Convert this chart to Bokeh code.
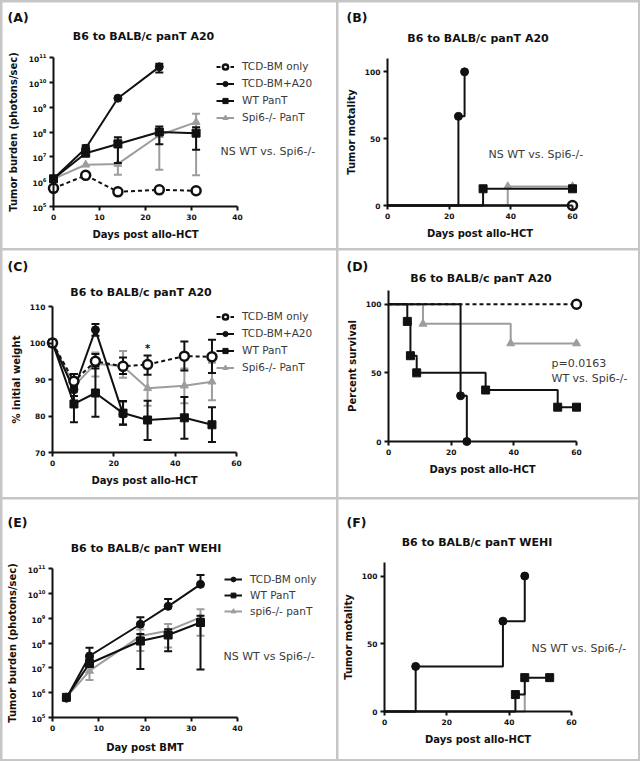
import numpy as np
from bokeh.plotting import figure
from bokeh.models import GridBox, Label, Legend, LegendItem, FixedTicker, Range1d
from bokeh.embed import file_html
from bokeh.resources import INLINE

FONT = "DejaVu Sans"
INK = "#111111"
GRAY = "#9d9d9d"
TXT = "#3a3a3a"

# ---------------- data ----------------
# (A) tumour burden, A20
a_days = [0, 7, 14, 23, 31]
a_tcd = [5.4e5, 1.8e6, 3.9e5, 4.7e5, 4.3e5]
a_a20_days = [0, 7, 14, 23]
a_a20 = [1.3e6, 2.2e7, 2.3e9, 4.2e10]
a_a20_lo = [1.3e6, 2.2e7, 2.3e9, 2.5e10]
a_a20_hi = [1.3e6, 2.9e7, 2.3e9, 5.6e10]
a_wt = [1.3e6, 1.4e7, 3.3e7, 1.0e8, 9.0e7]
a_wt_lo = [1.3e6, 1.4e7, 5.6e6, 3.2e7, 1.95e7]
a_wt_hi = [1.3e6, 2.0e7, 6.2e7, 1.66e8, 1.55e8]
a_spi = [1.3e6, 4.8e6, 5.2e6, 7.4e7, 2.5e8]
a_spi_lo = [1.3e6, 4.8e6, 1.9e6, 3.0e6, 1.8e6]
a_spi_hi = [1.3e6, 4.8e6, 5.0e7, 1.2e8, 5.4e8]

# (B) tumour mortality, A20
b_a20_t = [0, 23, 25]
b_a20_y = [0, 66.7, 100]
b_wt_t = [0, 31, 60]
b_wt_y = [0, 12.5, 12.5]
b_spi_t = [0, 39, 60]
b_spi_y = [0, 14.3, 14.3]
b_tcd_t = [0, 60]
b_tcd_y = [0, 0]

# (C) weight
c_days = [0, 7, 14, 23, 31, 43, 52]
c_tcd = [100, 89.5, 95.0, 93.6, 94.1, 96.4, 96.2]
c_tcd_lo = [100, 88.0, 93.0, 91.5, 91.3, 92.5, 91.8]
c_tcd_hi = [100, 91.5, 97.0, 96.0, 96.6, 100.4, 100.9]
c_a20_days = [0, 7, 14, 23]
c_a20 = [100, 87.2, 103.6, 80.5]
c_a20_lo = [100, 85.5, 102.0, 77.7]
c_a20_hi = [100, 89.0, 105.2, 84.0]
c_wt = [100, 83.3, 86.3, 80.8, 78.9, 79.5, 77.6]
c_wt_lo = [100, 78.3, 79.8, 77.6, 73.4, 73.8, 72.9]
c_wt_hi = [100, 88.4, 93.6, 84.1, 84.2, 85.2, 82.4]
c_spi = [100, 88.2, 94.3, 93.6, 87.6, 88.3, 89.4]
c_spi_lo = [100, 86.5, 90.8, 90.5, 82.8, 83.5, 84.3]
c_spi_hi = [100, 90.0, 97.4, 97.8, 93.0, 93.0, 94.6]

# (D) survival
d_tcd_t = [0, 60]
d_tcd_y = [100, 100]
d_a20_t = [0, 23, 25]
d_a20_y = [100, 33.3, 0]
d_wt_t = [0, 6, 7, 9, 31, 54, 60]
d_wt_y = [100, 87.5, 62.5, 50, 37.5, 25, 25]
d_spi_t = [0, 11, 39, 60]
d_spi_y = [100, 85.7, 71.4, 71.4]

# (E) tumour burden, WEHI
e_days = [3, 8, 19, 25, 32]
e_tcd = [6.0e5, 3.0e7, 5.7e8, 3.0e9, 2.3e10]
e_tcd_hi = [6.0e5, 6.5e7, 1.1e9, 5.9e9, 5.5e10]
e_wt = [6.5e5, 1.5e7, 1.2e8, 2.1e8, 6.7e8]
e_wt_lo = [6.5e5, 1.5e7, 9.0e6, 4.6e7, 8.5e6]
e_wt_hi = [6.5e5, 2.5e7, 2.3e8, 3.6e8, 1.25e9]
e_spi = [6.5e5, 7.5e6, 1.9e8, 3.1e8, 1.07e9]
e_spi_lo = [6.5e5, 3.2e6, 4.8e7, 6.6e7, 1.95e8]
e_spi_hi = [6.5e5, 1.1e7, 3.5e8, 5.8e8, 2.3e9]

# (F) tumour mortality, WEHI
f_tcd_t = [0, 10, 38, 45]
f_tcd_y = [0, 33.3, 66.7, 100]
f_wt_t = [0, 42, 45, 53]
f_wt_y = [0, 12.5, 25, 25]
f_spi_t = [0, 45]
f_spi_y = [0, 14.3]

log_ticks = [1e5, 1e6, 1e7, 1e8, 1e9, 1e10, 1e11]


# ---------------- helpers ----------------
def panel(W, H, origin, edges, xr, yr, log=False):
    l, r, t, b = edges
    x0, x1 = xr
    y0, y1 = yr
    dx = (x1 - x0) / (r - l)
    xrange = Range1d(x0 - l * dx, x1 + (W - r) * dx)
    if log:
        ly0, ly1 = np.log10(y0), np.log10(y1)
        dy = (ly1 - ly0) / (b - t)
        yrange = Range1d(10 ** (ly0 - (H - b) * dy), 10 ** (ly1 + t * dy))
    else:
        dy = (y1 - y0) / (b - t)
        yrange = Range1d(y0 - (H - b) * dy, y1 + t * dy)
    p = figure(width=W, height=H, x_range=xrange, y_range=yrange,
               y_axis_type="log" if log else "linear",
               min_border=0, min_border_left=0, min_border_right=0,
               min_border_top=0, min_border_bottom=0,
               toolbar_location=None, output_backend="svg", title=None,
               background_fill_color="white", border_fill_color="white",
               outline_line_color=None)
    p.grid.visible = False
    g = dict(W=W, H=H, ox=origin[0], oy=origin[1], l=l, r=r, t=t, b=b,
             xr=xr, yr=yr, log=log)
    return p, g


def to_data(g, X, Y):
    x0, x1 = g["xr"]
    y0, y1 = g["yr"]
    u, v = X - g["ox"], Y - g["oy"]
    x = x0 + (u - g["l"]) / (g["r"] - g["l"]) * (x1 - x0)
    f = (g["b"] - v) / (g["b"] - g["t"])
    if g["log"]:
        y = 10 ** (np.log10(y0) + f * (np.log10(y1) - np.log10(y0)))
    else:
        y = y0 + f * (y1 - y0)
    return x, y


def axes(p, g, xticks, yticks, xlabel, ylabel, xlab_sd=6, ylab_sd=6):
    x0, x1 = g["xr"]
    y0, y1 = g["yr"]
    xa, ya = p.xaxis[0], p.yaxis[0]
    xa.ticker = FixedTicker(ticks=xticks, minor_ticks=[])
    ya.ticker = FixedTicker(ticks=yticks, minor_ticks=[])
    xa.bounds = (x0, x1)
    ya.bounds = (y0, y1)
    xa.fixed_location = y0
    ya.fixed_location = x0
    xa.axis_label = xlabel
    ya.axis_label = ylabel
    for ax in (xa, ya):
        ax.axis_line_width = 2
        ax.axis_line_color = INK
        ax.major_tick_line_width = 2
        ax.major_tick_line_color = INK
        ax.major_tick_out = 4
        ax.major_tick_in = 0
        ax.minor_tick_line_color = None
        ax.major_label_text_font = FONT
        ax.major_label_text_font_style = "bold"
        ax.major_label_text_font_size = "7.5px"
        ax.major_label_text_color = INK
        ax.major_label_standoff = 3
        ax.axis_label_text_font = FONT
        ax.axis_label_text_font_style = "bold"
        ax.axis_label_text_font_size = "10px"
        ax.axis_label_text_color = INK
    xa.axis_label_standoff = xlab_sd
    ya.axis_label_standoff = ylab_sd


def text(p, g, X, Y, s, size="11px", style="normal", color=INK, align="left"):
    x, y = to_data(g, X, Y)
    p.add_layout(Label(x=x, y=y, text=s, text_font=FONT, text_font_size=size,
                       text_font_style=style, text_color=color, text_align=align,
                       text_baseline="middle"))


def heading(p, g, tag, tag_xy, title, title_xy):
    text(p, g, tag_xy[0], tag_xy[1], tag, size="12.5px", style="bold")
    text(p, g, title_xy[0], title_xy[1], title, size="11px", style="bold", align="center")


def errbars(p, x, y, lo, hi, color):
    xs, y0s, y1s, cx, cy = [], [], [], [], []
    for xi, yi, lw, hg in zip(x, y, lo, hi):
        if hg > yi:
            xs.append(xi); y0s.append(yi); y1s.append(hg); cx.append(xi); cy.append(hg)
        if lw < yi:
            xs.append(xi); y0s.append(lw); y1s.append(yi); cx.append(xi); cy.append(lw)
    p.segment(x0=xs, y0=y0s, x1=xs, y1=y1s, line_color=color, line_width=2)
    p.scatter(x=cx, y=cy, marker="dash", size=8, line_color=color, line_width=2)


def series(p, x, y, color, marker, dash="solid", open_=False, size=8):
    l = p.line(x, y, line_color=color, line_width=2, line_dash=dash)
    m = p.scatter(x, y, marker=marker, size=size + (1 if open_ else 0),
                  line_color=color, fill_color="white" if open_ else color,
                  line_width=2.5 if open_ else 1)
    return [l, m]


def steps(p, t, y, color, marker, dash="solid", open_=False, size=8, marks=True):
    p.step(t, y, mode="after", line_color=color, line_width=2, line_dash=dash)
    if marks:
        p.scatter(t[1:], y[1:], marker=marker, size=size + (1 if open_ else 0),
                  line_color=color, fill_color="white" if open_ else color,
                  line_width=2.5 if open_ else 1)


def legend(p, g, entries, X, Y1, rowh=13, sp=4):
    n = len(entries)
    h = n * rowh + (n - 1) * sp
    vx = X - g["ox"]
    top = (Y1 - g["oy"]) - rowh / 2
    vy = g["H"] - (top + h)
    items = [LegendItem(label=lab, renderers=rs) for lab, rs in entries]
    leg = Legend(items=items, location=(vx, vy), orientation="vertical",
                 glyph_width=18, glyph_height=rowh, label_height=rowh,
                 label_standoff=8, spacing=sp, padding=0, margin=0,
                 border_line_color=None, background_fill_alpha=0,
                 label_text_font=FONT, label_text_font_size="10.5px",
                 label_text_color=TXT, label_text_baseline="middle")
    p.add_layout(leg)


W1, W2 = 334, 300
H1, H2, H3 = 246, 247, 260

# ---------------- (A) ----------------
pA, gA = panel(W1, H1, (2, 2), (51, 235, 55, 204), (0, 40), (1e5, 1e11), log=True)
axes(pA, gA, [0, 10, 20, 30, 40], log_ticks, "Days post allo-HCT",
     "Tumor burden (photons/sec)", ylab_sd=7)
errbars(pA, a_days, a_spi, a_spi_lo, a_spi_hi, GRAY)
rA_spi = series(pA, a_days, a_spi, GRAY, "triangle")
errbars(pA, a_days, a_wt, a_wt_lo, a_wt_hi, INK)
rA_wt = series(pA, a_days, a_wt, INK, "square")
errbars(pA, a_a20_days, a_a20, a_a20_lo, a_a20_hi, INK)
rA_a20 = series(pA, a_a20_days, a_a20, INK, "circle")
rA_tcd = series(pA, a_days, a_tcd, INK, "circle", dash="4 3", open_=True)
legend(pA, gA, [("TCD-BM only", rA_tcd), ("TCD-BM+A20", rA_a20),
                ("WT PanT", rA_wt), ("Spi6-/- PanT", rA_spi)], 216, 66)
heading(pA, gA, "(A)", (7, 16.5), "B6 to BALB/c panT A20", (143, 36))
text(pA, gA, 220, 151, "NS WT vs. Spi6-/-", color=TXT)

# ---------------- (B) ----------------
pB, gB = panel(W2, H1, (338, 2), (49, 234, 56, 203), (0, 60), (0, 110))
axes(pB, gB, [0, 20, 40, 60], [0, 50, 100], "Days post allo-HCT", "Tumor motality", ylab_sd=5)
steps(pB, b_spi_t, b_spi_y, GRAY, "triangle")
steps(pB, b_wt_t, b_wt_y, INK, "square")
steps(pB, b_a20_t, b_a20_y, INK, "circle")
steps(pB, b_tcd_t, b_tcd_y, INK, "circle", open_=True)
heading(pB, gB, "(B)", (346, 16.7), "B6 to BALB/c panT A20", (477.5, 38))
text(pB, gB, 488, 154.3, "NS WT vs. Spi6-/-", color=TXT)

# ---------------- (C) ----------------
pC, gC = panel(W1, H2, (2, 250), (50, 234, 56, 202), (0, 60), (70, 110))
axes(pC, gC, [0, 20, 40, 60], [70, 80, 90, 100, 110], "Days post allo-HCT", "% initial weight",
     ylab_sd=5)
errbars(pC, c_days, c_spi, c_spi_lo, c_spi_hi, GRAY)
rC_spi = series(pC, c_days, c_spi, GRAY, "triangle")
errbars(pC, c_days, c_wt, c_wt_lo, c_wt_hi, INK)
rC_wt = series(pC, c_days, c_wt, INK, "square")
errbars(pC, c_a20_days, c_a20, c_a20_lo, c_a20_hi, INK)
rC_a20 = series(pC, c_a20_days, c_a20, INK, "circle")
errbars(pC, c_days, c_tcd, c_tcd_lo, c_tcd_hi, INK)
rC_tcd = series(pC, c_days, c_tcd, INK, "circle", dash="4 3", open_=True)
legend(pC, gC, [("TCD-BM only", rC_tcd), ("TCD-BM+A20", rC_a20),
                ("WT PanT", rC_wt), ("Spi6-/- PanT", rC_spi)], 216, 316)
heading(pC, gC, "(C)", (7, 266), "B6 to BALB/c panT A20", (140.5, 291.7))
pC.add_layout(Label(x=31, y=98.6, text="*", text_font=FONT, text_font_size="10px",
                    text_font_style="bold", text_color=INK, text_align="center",
                    text_baseline="middle"))

# ---------------- (D) ----------------
pD, gD = panel(W2, H2, (338, 250), (50, 238, 40, 191), (0, 60), (0, 110))
axes(pD, gD, [0, 20, 40, 60], [0, 50, 100], "Days post allo-HCT", "Percent survival", ylab_sd=5)
steps(pD, d_spi_t, d_spi_y, GRAY, "triangle")
steps(pD, d_tcd_t, d_tcd_y, INK, "circle", dash="4 3", open_=True)
steps(pD, d_wt_t, d_wt_y, INK, "square")
steps(pD, d_a20_t, d_a20_y, INK, "circle")
heading(pD, gD, "(D)", (346, 266), "B6 to BALB/c panT A20", (480.5, 278.3))
text(pD, gD, 551, 363.3, "p=0.0163", color=TXT)
text(pD, gD, 551, 377.7, "WT vs. Spi6-/-", color=TXT)

# ---------------- (E) ----------------
pE, gE = panel(W1, H3, (2, 499), (50, 235, 69, 218), (0, 40), (1e5, 1e11), log=True)
axes(pE, gE, [0, 10, 20, 30, 40], log_ticks, "Day post BMT", "Tumor burden (photons/sec)",
     xlab_sd=8, ylab_sd=7)
errbars(pE, e_days, e_spi, e_spi_lo, e_spi_hi, GRAY)
rE_spi = series(pE, e_days, e_spi, GRAY, "triangle")
errbars(pE, e_days, e_wt, e_wt_lo, e_wt_hi, INK)
rE_wt = series(pE, e_days, e_wt, INK, "square")
errbars(pE, e_days, e_tcd, e_tcd, e_tcd_hi, INK)
rE_tcd = series(pE, e_days, e_tcd, INK, "circle")
legend(pE, gE, [("TCD-BM only", rE_tcd), ("WT PanT", rE_wt), ("spi6-/- panT", rE_spi)],
       224, 579.3, rowh=12, sp=4)
heading(pE, gE, "(E)", (7, 521.7), "B6 to BALB/c panT WEHI", (145.5, 547.7))
text(pE, gE, 223, 656, "NS WT vs Spi6-/-", color=TXT)

# ---------------- (F) ----------------
pF, gF = panel(W2, H3, (338, 499), (46, 233, 63, 212), (0, 60), (0, 110))
axes(pF, gF, [0, 20, 40, 60], [0, 50, 100], "Days post allo-HCT", "Tumor motality", ylab_sd=5)
steps(pF, f_spi_t, f_spi_y, GRAY, "triangle", marks=False)
steps(pF, f_wt_t, f_wt_y, INK, "square")
steps(pF, f_tcd_t, f_tcd_y, INK, "circle")
heading(pF, gF, "(F)", (346, 521.7), "B6 to BALB/c panT WEHI", (476.5, 541.7))
text(pF, gF, 531, 647.7, "NS WT vs. Spi6-/-", color=TXT)

grid = GridBox(children=[(pA, 0, 0), (pB, 0, 1), (pC, 1, 0), (pD, 1, 1), (pE, 2, 0), (pF, 2, 1)],
               spacing=2, styles={"background-color": "#c6c6c6", "padding": "2px"})

open("out.html", "w").write(file_html(grid, INLINE))
